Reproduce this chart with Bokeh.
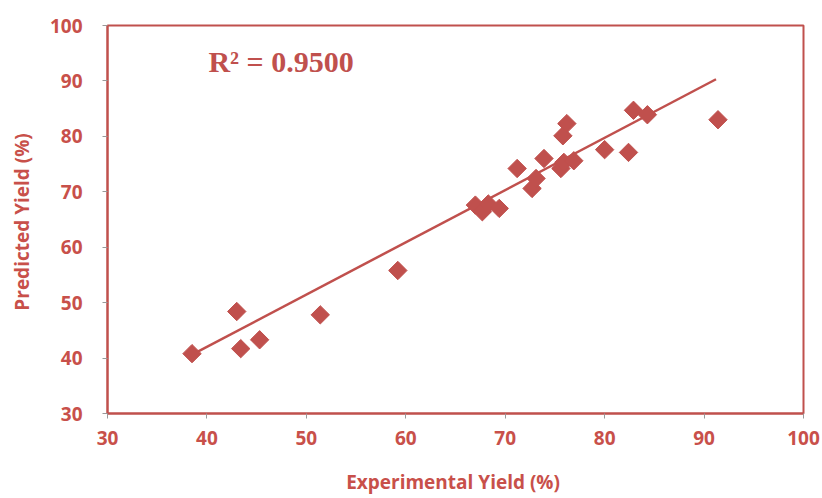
import numpy as np
from bokeh.plotting import figure
from bokeh.models import ColumnDataSource, Label, FixedTicker
from bokeh.embed import file_html
from bokeh.resources import INLINE

experimental = [38.5, 43.0, 43.4, 45.3, 51.4, 59.2, 67.0, 67.7, 68.3, 69.4,
                71.2, 72.7, 73.1, 73.9, 75.6, 75.9, 76.9, 75.8, 76.2, 80.0,
                82.4, 82.9, 84.3, 91.4]
predicted = [40.8, 48.4, 41.7, 43.3, 47.8, 55.8, 67.6, 66.4, 67.8, 67.0,
             74.2, 70.6, 72.4, 76.0, 74.2, 75.3, 75.6, 80.1, 82.3, 77.6,
             77.1, 84.7, 83.9, 83.0]
trend_x = [38.7, 91.2]
trend_y = [40.8, 90.3]
ticks = [30, 40, 50, 60, 70, 80, 90, 100]
r2_text = "R² = 0.9500"

RED = "#C0504D"
LABEL = "#C8504A"

p = figure(width=822, height=498, output_backend="svg", toolbar_location=None,
           x_range=(30, 100), y_range=(30, 100),
           min_border_left=107, min_border_right=19, min_border_top=25, min_border_bottom=85)
p.xgrid.visible = False
p.ygrid.visible = False
p.outline_line_color = RED
p.outline_line_width = 2
p.background_fill_color = "white"
p.border_fill_color = "white"

src = ColumnDataSource(dict(x=experimental, y=predicted))

p.line(trend_x, trend_y, line_color=RED, line_width=2.5)

p.scatter("x", "y", source=src, marker="square", size=13, angle=np.pi / 4,
          fill_color=RED, line_color=RED)

for ax in (p.xaxis[0], p.yaxis[0]):
    ax.ticker = FixedTicker(ticks=ticks)
    ax.major_label_text_font = "Open Sans"
    ax.major_label_text_font_style = "bold"
    ax.major_label_text_font_size = "19px"
    ax.major_label_text_color = LABEL
    ax.axis_label_text_font = "Open Sans"
    ax.axis_label_text_font_style = "bold"
    ax.axis_label_text_font_size = "19px"
    ax.axis_label_text_color = LABEL
    ax.major_tick_line_color = "#999999"
    ax.major_tick_in = 0
    ax.major_tick_out = 5
    ax.minor_tick_line_color = None
    ax.axis_line_color = RED
    ax.axis_line_width = 2

p.xaxis.axis_label = "Experimental Yield  (%)"
p.yaxis.axis_label = "Predicted Yield  (%)"
p.xaxis.major_label_standoff = 12
p.yaxis.major_label_standoff = 20
p.xaxis.axis_label_standoff = 21
p.yaxis.axis_label_standoff = 12

p.add_layout(Label(x=40.15, y=93.5, text=r2_text,
                   text_font="Liberation Serif", text_font_style="bold",
                   text_font_size="30px", text_color=RED, text_baseline="middle"))

open("out.html", "w").write(file_html(p, INLINE))
